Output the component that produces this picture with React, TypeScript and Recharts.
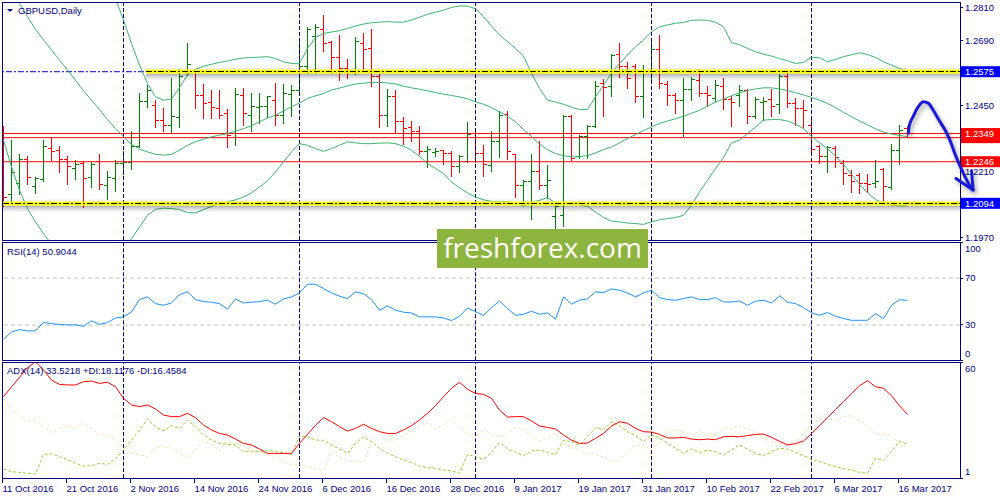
import React from 'react';
import { ComposedChart, Bar, Line, XAxis, YAxis, ReferenceLine } from 'recharts';

const FONT = "'Liberation Sans', Arial, sans-serif";
const NAVY = '#000080';

// ---------- categories / tick labels ----------
const dateLabels = ['11 Oct 2016', '21 Oct 2016', '2 Nov 2016', '14 Nov 2016', '24 Nov 2016', '6 Dec 2016', '16 Dec 2016', '28 Dec 2016', '9 Jan 2017', '19 Jan 2017', '31 Jan 2017', '10 Feb 2017', '22 Feb 2017', '6 Mar 2017', '16 Mar 2017'];
const dateTickIdx = [0, 8, 16, 24, 32, 40, 48, 56, 64, 72, 80, 88, 96, 104, 112];
const separatorIdx = [15, 37, 59, 81, 101];

// ---------- GBPUSD daily OHLC ----------
const openP = [1.2355,1.2127,1.2168,1.2254,1.2156,1.2182,1.2294,1.2286,1.2254,1.2221,
1.2239,1.2190,1.2245,1.2160,1.2184,1.2239,1.2242,1.2300,1.2465,1.2452,
1.2398,1.2380,1.2408,1.2573,1.2575,1.2489,1.2461,1.2441,1.2422,1.2349,
1.2489,1.2416,1.2444,1.2449,1.2471,1.2416,1.2493,1.2508,1.2593,1.2703,
1.2730,1.2681,1.2627,1.2587,1.2578,1.2678,1.2660,1.2559,1.2416,1.2483,
1.2392,1.2371,1.2355,1.2282,1.2278,1.2286,1.2276,1.2227,1.2245,1.2349,
1.2276,1.2233,1.2319,1.2420,1.2273,1.2160,1.2172,1.2209,1.2160,1.2044,
1.2050,1.2412,1.2264,1.2337,1.2376,1.2532,1.2520,1.2639,1.2595,1.2593,
1.2486,1.2581,1.2656,1.2530,1.2489,1.2471,1.2510,1.2544,1.2495,1.2477,
1.2522,1.2473,1.2489,1.2508,1.2412,1.2461,1.2473,1.2456,1.2559,1.2459,
1.2440,1.2380,1.2300,1.2264,1.2294,1.2239,1.2197,1.2197,1.2166,1.2168,
1.2217,1.2151,1.2288,1.2367];
const highP = [1.2373,1.2325,1.2273,1.2264,1.2190,1.2325,1.2333,1.2300,1.2264,1.2251,
1.2247,1.2242,1.2273,1.2212,1.2251,1.2282,1.2355,1.2495,1.2526,1.2471,
1.2440,1.2550,1.2583,1.2678,1.2581,1.2530,1.2505,1.2508,1.2437,1.2514,
1.2514,1.2495,1.2495,1.2486,1.2532,1.2530,1.2526,1.2697,1.2737,1.2746,
1.2780,1.2685,1.2709,1.2620,1.2700,1.2715,1.2730,1.2566,1.2510,1.2505,
1.2408,1.2392,1.2376,1.2300,1.2294,1.2288,1.2282,1.2270,1.2388,1.2351,
1.2306,1.2355,1.2428,1.2428,1.2273,1.2178,1.2273,1.2319,1.2233,1.2090,
1.2416,1.2416,1.2343,1.2380,1.2541,1.2547,1.2639,1.2678,1.2608,1.2603,
1.2599,1.2681,1.2709,1.2538,1.2495,1.2550,1.2554,1.2583,1.2522,1.2542,
1.2550,1.2483,1.2526,1.2510,1.2481,1.2481,1.2510,1.2563,1.2569,1.2477,
1.2471,1.2408,1.2306,1.2303,1.2303,1.2251,1.2215,1.2203,1.2200,1.2251,
1.2221,1.2310,1.2380,1.2376];
const lowP = [1.2087,1.2099,1.2129,1.2166,1.2132,1.2178,1.2254,1.2209,1.2168,1.2184,
1.2081,1.2154,1.2148,1.2111,1.2139,1.2203,1.2221,1.2300,1.2447,1.2376,
1.2359,1.2351,1.2376,1.2566,1.2444,1.2408,1.2408,1.2408,1.2300,1.2310,
1.2383,1.2359,1.2388,1.2412,1.2383,1.2388,1.2416,1.2508,1.2571,1.2571,
1.2654,1.2571,1.2548,1.2554,1.2569,1.2587,1.2526,1.2373,1.2380,1.2355,
1.2312,1.2325,1.2276,1.2227,1.2270,1.2239,1.2197,1.2209,1.2245,1.2245,
1.2197,1.2215,1.2266,1.2257,1.2120,1.2105,1.2038,1.2148,1.2117,1.1998,
1.2014,1.2254,1.2261,1.2261,1.2376,1.2416,1.2489,1.2559,1.2517,1.2465,
1.2410,1.2538,1.2517,1.2456,1.2425,1.2343,1.2473,1.2489,1.2453,1.2471,
1.2440,1.2380,1.2453,1.2388,1.2408,1.2400,1.2416,1.2425,1.2449,1.2383,
1.2373,1.2276,1.2242,1.2212,1.2227,1.2168,1.2136,1.2132,1.2136,1.2156,
1.2105,1.2148,1.2239,1.2339];
const closeP = [1.2117,1.2206,1.2254,1.2188,1.2184,1.2300,1.2282,1.2254,1.2227,1.2237,
1.2184,1.2237,1.2164,1.2188,1.2239,1.2242,1.2300,1.2465,1.2508,1.2398,
1.2380,1.2410,1.2556,1.2603,1.2489,1.2459,1.2444,1.2416,1.2343,1.2492,
1.2422,1.2447,1.2449,1.2483,1.2416,1.2495,1.2508,1.2593,1.2730,1.2737,
1.2678,1.2627,1.2587,1.2578,1.2685,1.2656,1.2559,1.2416,1.2483,1.2392,
1.2367,1.2355,1.2282,1.2290,1.2282,1.2276,1.2227,1.2264,1.2346,1.2276,
1.2237,1.2319,1.2414,1.2282,1.2160,1.2172,1.2209,1.2160,1.2178,1.2081,
1.2412,1.2258,1.2339,1.2376,1.2522,1.2517,1.2636,1.2595,1.2550,1.2486,
1.2578,1.2656,1.2532,1.2489,1.2471,1.2510,1.2547,1.2495,1.2489,1.2526,
1.2473,1.2461,1.2508,1.2410,1.2473,1.2465,1.2449,1.2556,1.2459,1.2440,
1.2434,1.2290,1.2264,1.2298,1.2261,1.2203,1.2172,1.2166,1.2164,1.2172,
1.2154,1.2288,1.2361,1.2349];

// ---------- Bollinger bands ----------
const bbUpper = [null,null,null,null,null,null,null,null,null,null,
1.3160,1.3090,1.3010,1.2930,1.2843,1.2764,1.2678,1.2599,1.2532,1.2483,
1.2471,1.2475,1.2517,1.2563,1.2584,1.2595,1.2602,1.2609,1.2614,1.2621,
1.2625,1.2627,1.2628,1.2630,1.2623,1.2611,1.2605,1.2604,1.2660,1.2700,
1.2715,1.2720,1.2725,1.2733,1.2742,1.2749,1.2754,1.2756,1.2758,1.2756,
1.2756,1.2764,1.2774,1.2785,1.2792,1.2800,1.2810,1.2815,1.2815,1.2805,
1.2776,1.2742,1.2709,1.2685,1.2660,1.2632,1.2569,1.2514,1.2471,1.2464,
1.2456,1.2445,1.2437,1.2437,1.2483,1.2526,1.2569,1.2605,1.2636,1.2666,
1.2691,1.2721,1.2739,1.2746,1.2752,1.2755,1.2763,1.2764,1.2763,1.2756,
1.2739,1.2681,1.2674,1.2660,1.2648,1.2639,1.2632,1.2623,1.2615,1.2605,
1.2609,1.2628,1.2626,1.2611,1.2620,1.2630,1.2637,1.2644,1.2638,1.2627,
1.2611,1.2599,1.2587,1.2578];
const bbMiddle = [1.2898,1.2861,1.2824,1.2776,1.2730,1.2691,1.2654,1.2617,1.2581,1.2544,
1.2505,1.2471,1.2437,1.2400,1.2367,1.2337,1.2310,1.2292,1.2282,1.2273,
1.2270,1.2273,1.2288,1.2306,1.2319,1.2328,1.2337,1.2343,1.2349,1.2358,
1.2367,1.2377,1.2392,1.2406,1.2416,1.2432,1.2447,1.2461,1.2477,1.2487,
1.2495,1.2508,1.2515,1.2523,1.2530,1.2533,1.2536,1.2536,1.2534,1.2530,
1.2522,1.2516,1.2511,1.2505,1.2499,1.2493,1.2488,1.2483,1.2476,1.2465,
1.2456,1.2444,1.2428,1.2412,1.2392,1.2364,1.2339,1.2310,1.2290,1.2276,
1.2268,1.2264,1.2264,1.2268,1.2278,1.2290,1.2300,1.2315,1.2331,1.2345,
1.2360,1.2373,1.2386,1.2395,1.2403,1.2412,1.2423,1.2434,1.2449,1.2464,
1.2475,1.2487,1.2498,1.2506,1.2512,1.2516,1.2516,1.2512,1.2506,1.2498,
1.2490,1.2481,1.2471,1.2459,1.2444,1.2426,1.2410,1.2395,1.2381,1.2366,
1.2354,1.2347,1.2342,1.2338];
const bbLower = [1.2325,1.2227,1.2142,1.2074,1.2026,1.1983,1.1946,1.1910,1.1873,1.1849,
1.1837,1.1831,1.1837,1.1851,1.1889,1.1927,1.1965,1.2007,1.2050,1.2072,
1.2076,1.2075,1.2071,1.2060,1.2059,1.2071,1.2083,1.2093,1.2099,1.2107,
1.2117,1.2132,1.2154,1.2176,1.2209,1.2245,1.2282,1.2312,1.2306,1.2294,
1.2284,1.2294,1.2306,1.2319,1.2315,1.2312,1.2312,1.2314,1.2315,1.2312,
1.2303,1.2288,1.2266,1.2239,1.2221,1.2203,1.2172,1.2151,1.2132,1.2117,
1.2107,1.2101,1.2099,1.2099,1.2095,1.2084,1.2095,1.2105,1.2115,1.2095,
1.2090,1.2090,1.2089,1.2083,1.2062,1.2042,1.2029,1.2026,1.2022,1.2020,
1.2017,1.2026,1.2034,1.2038,1.2042,1.2050,1.2087,1.2136,1.2178,1.2221,
1.2261,1.2315,1.2325,1.2349,1.2373,1.2398,1.2400,1.2400,1.2395,1.2383,
1.2367,1.2339,1.2315,1.2294,1.2266,1.2237,1.2200,1.2164,1.2132,1.2108,
1.2093,1.2087,1.2085,1.2085];

// ---------- RSI(14) ----------
const rsi14 = [17.9,24.1,26.1,25.0,25.0,32.3,31.2,30.4,30.1,30.1,
28.9,33.5,30.6,32.1,36.0,36.9,41.1,51.6,53.9,48.2,
46.8,48.8,55.9,58.2,51.6,49.9,49.4,48.2,43.4,52.2,
48.8,49.4,49.9,51.1,47.7,52.2,53.9,57.3,64.7,64.7,
61.0,57.3,54.5,52.5,58.2,56.7,51.6,42.6,46.2,42.6,
40.9,40.3,36.9,36.9,36.9,36.0,33.8,37.4,44.5,41.4,
38.0,44.8,50.5,44.0,38.3,39.1,41.7,39.1,40.3,34.9,
53.9,47.7,51.1,52.2,58.2,57.6,60.7,59.6,57.3,53.9,
57.3,59.6,53.3,51.6,51.1,52.5,53.9,51.6,51.6,53.3,
49.6,49.6,50.5,46.8,50.2,51.1,48.8,54.8,49.4,48.2,
44.8,40.3,38.3,40.6,37.4,35.5,34.0,34.0,34.0,39.7,
35.5,46.8,51.6,50.9];

// ---------- ADX(14), +DI, -DI ----------
const adx14 = [42.6,47.6,52.5,57.5,60.5,56.3,51.1,48.9,48.6,48.6,
50.3,50.6,49.4,50.0,47.7,41.8,38.4,37.5,38.4,36.3,
33.2,32.4,32.4,34.1,31.9,28.1,25.6,23.8,23.0,20.9,
18.7,17.9,15.8,13.6,13.6,13.6,13.6,18.7,23.3,28.0,
32.0,29.8,27.3,25.0,26.4,28.5,26.4,24.7,23.8,23.8,
25.6,27.8,30.7,34.1,38.0,42.6,46.9,50.0,46.4,44.3,
43.8,41.8,35.8,32.2,32.4,32.4,30.2,27.6,26.9,26.1,
23.0,20.4,18.7,18.9,21.3,23.8,27.6,29.8,29.0,26.4,
24.7,24.5,23.3,21.5,21.5,21.8,20.9,20.6,20.9,20.6,
22.1,22.3,22.1,22.7,23.3,23.5,21.8,19.8,17.9,18.6,
19.9,23.7,27.8,31.9,36.0,40.1,44.1,48.2,50.8,47.7,
46.9,43.1,38.0,33.5];
const plusDI = [5.6,4.2,3.9,3.4,3.0,13.1,13.4,11.9,10.4,8.5,
7.1,7.3,8.5,8.0,10.7,15.3,20.4,25.6,31.2,27.3,
25.0,27.8,26.4,30.7,27.3,23.0,20.4,18.7,18.2,17.9,
14.5,14.5,14.5,15.3,14.5,14.1,12.8,22.5,22.1,20.4,
20.3,17.9,15.8,13.6,18.7,22.1,19.6,16.2,13.6,11.9,
10.2,9.0,7.1,6.3,5.9,5.1,4.6,3.4,13.1,11.9,
10.5,14.1,19.2,15.8,14.1,12.4,14.8,15.3,14.1,12.8,
20.4,19.6,17.9,22.1,26.8,25.6,29.8,27.8,24.7,22.7,
19.6,23.3,21.3,18.9,16.2,13.6,15.8,14.1,15.2,14.5,
12.8,15.3,17.9,15.8,13.6,12.4,14.5,16.2,15.8,14.1,
12.4,10.7,9.4,8.0,6.8,5.9,5.1,3.9,3.4,11.1,
10.0,14.5,19.9,18.1];
const minusDI = [41.8,36.3,32.4,29.8,30.7,27.3,24.4,26.4,27.8,26.4,
29.0,26.1,23.3,23.0,20.4,16.2,13.6,12.8,11.9,16.5,
17.5,16.2,13.6,11.4,15.3,19.9,18.2,15.0,19.9,18.7,
17.0,15.3,14.5,12.8,11.9,9.4,7.6,8.0,6.8,5.9,
5.1,14.5,11.4,9.7,9.7,9.0,19.2,23.0,20.4,20.4,
23.0,25.6,27.8,29.5,26.1,28.1,31.5,27.3,23.8,21.3,
26.4,23.0,22.1,23.8,26.8,26.1,22.7,19.9,21.6,23.8,
19.2,16.5,15.3,13.6,12.8,11.9,9.7,9.4,14.5,17.9,
17.5,15.3,19.9,25.4,25.7,24.4,23.0,25.0,22.1,23.0,
26.8,26.1,27.8,26.1,24.2,21.3,19.6,18.7,17.5,19.2,
23.7,28.5,30.7,31.5,30.5,32.4,32.9,30.5,27.8,23.8,
23.3,23.0,18.7,16.5];

// ---------- levels / axis ticks ----------
const resistanceLevel = 1.2575;
const supportLevel = 1.2094;
const resistanceBandStart = 17.8;
const redLevels = [1.2349, 1.2334, 1.2246];
const priceAxisTicks = [1.281, 1.269, 1.245, 1.221, 1.197];
const priceMarkerValues = [1.2575, 1.2094, 1.2246, 1.2334, 1.2349];
const priceMarkerColors = ['#0000ff', '#0000ff', '#ff0000', '#ff0000', '#ff0000'];
const hiddenMarkerValues = [1.2334]; // label box almost fully covered by the 1.2349 box
const rsiAxisTicks = [100, 70, 30, 0];
const rsiLevels = [70, 30];
const adxAxisTicks = [60, 1];

// hand-drawn forecast arrow (bar index, price)
const arrowIdx = [113.1, 113.2, 113.7, 114.35, 114.97, 115.6, 116.2, 117.06, 117.7, 118.3, 118.9, 119.6, 120.4, 121.0, 121.2];
const arrowPrice = [1.2350, 1.2374, 1.2411, 1.2447, 1.2465, 1.2460, 1.2435, 1.2392, 1.2362, 1.2325, 1.2277, 1.2228, 1.2179, 1.2149, 1.2143];
const arrowHeadIdx = [119.06, 121.2, 121.0];
const arrowHeadPrice = [1.2185, 1.2143, 1.2213];

// ---------- scales setup ----------
const X_DOMAIN: [number, number] = [-0.0625, 119.5625];
const OVERLAY_X_DOMAIN: [number, number] = [-0.4375, 124.5625];
const PRICE_DOMAIN: [number, number] = [1.19599, 1.28261];

const priceRows = openP.map((o, i) => ({ i, o, h: highP[i], l: lowP[i], c: closeP[i], bu: bbUpper[i], bm: bbMiddle[i], bl: bbLower[i] }));
const rsiRows = rsi14.map((v, i) => ({ i, rsi: v }));
const adxRows = adx14.map((v, i) => ({ i, adx: v, pdi: plusDI[i], mdi: minusDI[i] }));
const arrowRows = arrowIdx.map((x, k) => ({ x, p: arrowPrice[k] }));
const arrowHeadRows = arrowHeadIdx.map((x, k) => ({ x, p: arrowHeadPrice[k] }));

const snap = (v: number) => Math.round(v - 0.5) + 0.5;

const OhlcShape = (props: any) => {
  const { x, y, width, height, payload } = props;
  if (x == null || y == null || !payload) return null;
  const top = Math.min(y, y + height);
  const bot = Math.max(y, y + height);
  const cx = snap(x + width / 2);
  const { o, h, l, c } = payload;
  const span = h - l;
  const py = (v: number) => (span > 0 ? top + ((h - v) / span) * (bot - top) : top);
  const color = c > o ? '#008000' : '#ff0000';
  const yo = snap(py(o));
  const yc = snap(py(c));
  return (
    <g>
      <line x1={cx} x2={cx} y1={Math.floor(top)} y2={Math.ceil(bot) + 1} stroke={color} strokeWidth={1} />
      <line x1={cx - 3.5} x2={cx - 0.5} y1={yo} y2={yo} stroke={color} strokeWidth={1} />
      <line x1={cx + 0.5} x2={cx + 3.5} y1={yc} y2={yc} stroke={color} strokeWidth={1} />
    </g>
  );
};

const YellowBand = (p: any) => {
  const left = Math.min(p.x1, p.x2);
  const right = Math.max(p.x1, p.x2);
  const yy = snap(p.y1);
  const w = right - left;
  return (
    <g clipPath={p.clipPath}>
      <rect x={left} y={yy - 4} width={w} height={2} fill="#000" opacity={0.06} />
      <rect x={left} y={yy + 2} width={w} height={2} fill="#000" opacity={0.28} />
      <rect x={left} y={yy + 4} width={w} height={2} fill="#000" opacity={0.16} />
      <rect x={left} y={yy + 6} width={w} height={2} fill="#000" opacity={0.07} />
      <rect x={left} y={yy - 2} width={w} height={4} fill="#ffff00" />
      <line x1={left} x2={right} y1={yy} y2={yy} stroke="#000000" strokeWidth={1} strokeDasharray="6 2 2 2" />
    </g>
  );
};

const PriceTick = (p: any) => {
  const { x, y, payload } = p;
  const v = payload.value as number;
  const k = priceMarkerValues.indexOf(v);
  if (k >= 0) {
    const hidden = hiddenMarkerValues.indexOf(v) >= 0;
    return (
      <g>
        <rect x={x + 1} y={y - 5.5} width={40} height={11} fill={priceMarkerColors[k]} />
        {hidden ? null : (
          <text x={x + 5} y={y} dy="0.35em" fill="#ffffff" fontSize={9.5} fontFamily={FONT}>{v.toFixed(4)}</text>
        )}
      </g>
    );
  }
  return (
    <g>
      <line x1={x} x2={x + 3} y1={snap(y)} y2={snap(y)} stroke={NAVY} />
      <text x={x + 5} y={y} dy="0.35em" fill={NAVY} fontSize={9.5} fontFamily={FONT}>{v.toFixed(4)}</text>
    </g>
  );
};

const makeEdgeTick = (maxV: number, minV: number) => (p: any) => {
  const { x, y, payload } = p;
  const v = payload.value as number;
  const shift = v === maxV ? 6.3 : v === minV ? -6.8 : 0;
  return (
    <g>
      <line x1={x} x2={x + 3} y1={snap(y)} y2={snap(y)} stroke={NAVY} />
      <text x={x + 5} y={y + shift} dy="0.35em" fill={NAVY} fontSize={9.5} fontFamily={FONT}>{String(v)}</text>
    </g>
  );
};
const RsiTick = makeEdgeTick(100, 0);
const AdxTick = makeEdgeTick(60, 1);

const DateTick = (p: any) => {
  const { x, y, payload } = p;
  const k = dateTickIdx.indexOf(payload.value);
  return (
    <g>
      <line x1={snap(x - 1)} x2={snap(x - 1)} y1={y + 1} y2={y + 5} stroke={NAVY} />
      <text x={x - 1} y={y + 14} fill={NAVY} fontSize={9.5} fontFamily={FONT}>{k >= 0 ? dateLabels[k] : ''}</text>
    </g>
  );
};

const separators = (prefix: string) =>
  separatorIdx.map((s) => <ReferenceLine key={prefix + s} x={s} stroke={NAVY} strokeDasharray="4 2" ifOverflow="hidden" />);

const abs = (left: number, top: number): React.CSSProperties => ({ position: 'absolute', left, top });

export default function App() {
  return (
    <div style={{ position: 'absolute', left: 0, top: 0, width: 1000, height: 500, background: '#ffffff', overflow: 'hidden', fontFamily: FONT }}>
      {/* panel frames */}
      <div style={{ ...abs(2, 2), width: 959, height: 239, border: `1px solid ${NAVY}`, boxSizing: 'border-box' }} />
      <div style={{ ...abs(2, 242), width: 959, height: 119, border: `1px solid ${NAVY}`, boxSizing: 'border-box' }} />
      <div style={{ ...abs(2, 362), width: 959, height: 117, border: `1px solid ${NAVY}`, boxSizing: 'border-box' }} />

      {/* price panel */}
      <div style={abs(0, 0)}>
        <ComposedChart width={1000} height={242} data={priceRows} margin={{ top: 3, right: 0, bottom: 2, left: 3 }}>
          <XAxis dataKey="i" type="number" domain={X_DOMAIN} allowDataOverflow hide />
          <YAxis orientation="right" width={40} type="number" domain={PRICE_DOMAIN} allowDataOverflow
            ticks={[...priceAxisTicks, ...priceMarkerValues]} interval={0} tick={(p: any) => <PriceTick {...p} />}
            tickLine={false} axisLine={false} tickSize={0} tickMargin={0} />
          {separators('p')}
          <ReferenceLine y={resistanceLevel} stroke="#0000cd" strokeDasharray="6 2 2 2" ifOverflow="hidden" />
          {redLevels.map((v) => <ReferenceLine key={'r' + v} y={v} stroke="#ff0000" ifOverflow="hidden" />)}
          <Line dataKey="bu" stroke="#3cb371" strokeWidth={1} dot={false} activeDot={false} isAnimationActive={false} />
          <Line dataKey="bm" stroke="#3cb371" strokeWidth={1} dot={false} activeDot={false} isAnimationActive={false} />
          <Line dataKey="bl" stroke="#3cb371" strokeWidth={1} dot={false} activeDot={false} isAnimationActive={false} />
          <Bar dataKey={(d: any) => [d.l, d.h]} barSize={6} shape={OhlcShape} isAnimationActive={false} />
          <ReferenceLine segment={[{ x: resistanceBandStart, y: resistanceLevel }, { x: X_DOMAIN[1], y: resistanceLevel }]} shape={YellowBand} ifOverflow="hidden" />
          <ReferenceLine segment={[{ x: X_DOMAIN[0], y: supportLevel }, { x: X_DOMAIN[1], y: supportLevel }]} shape={YellowBand} ifOverflow="hidden" />
        </ComposedChart>
      </div>

      {/* RSI panel */}
      <div style={abs(0, 242)}>
        <ComposedChart width={1000} height={120} data={rsiRows} margin={{ top: 0.75, right: 0, bottom: 1.75, left: 3 }}>
          <XAxis dataKey="i" type="number" domain={X_DOMAIN} allowDataOverflow hide />
          <YAxis orientation="right" width={40} type="number" domain={[0, 100]} allowDataOverflow
            ticks={rsiAxisTicks} interval={0} tick={(p: any) => <RsiTick {...p} />}
            tickLine={false} axisLine={false} tickSize={0} tickMargin={0} />
          {rsiLevels.map((v) => <ReferenceLine key={'l' + v} y={v} stroke="#c0c0c0" strokeDasharray="4 3" />)}
          {separators('r')}
          <Line dataKey="rsi" stroke="#1e90ff" strokeWidth={1} dot={false} activeDot={false} isAnimationActive={false} />
        </ComposedChart>
      </div>

      {/* ADX panel */}
      <div style={abs(0, 362)}>
        <ComposedChart width={1000} height={138} data={adxRows} margin={{ top: 0.7, right: 0, bottom: 0, left: 3 }}>
          <XAxis dataKey="i" type="number" domain={X_DOMAIN} allowDataOverflow height={22}
            ticks={dateTickIdx} interval={0} tick={(p: any) => <DateTick {...p} />}
            tickLine={false} axisLine={false} tickSize={0} tickMargin={0} />
          <YAxis orientation="right" width={40} type="number" domain={[1, 60]} allowDataOverflow
            ticks={adxAxisTicks} interval={0} tick={(p: any) => <AdxTick {...p} />}
            tickLine={false} axisLine={false} tickSize={0} tickMargin={0} />
          {separators('a')}
          <Line dataKey="mdi" stroke="#f5deb3" strokeWidth={1} strokeDasharray="3 2" dot={false} activeDot={false} isAnimationActive={false} />
          <Line dataKey="pdi" stroke="#9acd32" strokeWidth={1} strokeDasharray="3 2" dot={false} activeDot={false} isAnimationActive={false} />
          <Line dataKey="adx" stroke="#ff0000" strokeWidth={1} dot={false} activeDot={false} isAnimationActive={false} />
        </ComposedChart>
      </div>

      {/* watermark */}
      <div style={{ ...abs(437, 229), width: 211, height: 39, background: '#8cb43e', color: '#ffffff', fontFamily: "'Open Sans', 'Noto Sans', sans-serif", fontSize: 28, lineHeight: '37px', textAlign: 'center' }}>
        freshforex.com
      </div>

      {/* forecast arrow */}
      <div style={{ ...abs(0, 0), filter: 'drop-shadow(2px 3px 2px rgba(0,0,0,0.35))' }}>
        <ComposedChart width={1000} height={242} margin={{ top: 3, right: 0, bottom: 2, left: 0 }}>
          <XAxis dataKey="x" type="number" domain={OVERLAY_X_DOMAIN} hide />
          <YAxis type="number" domain={PRICE_DOMAIN} hide />
          <Line data={arrowRows} dataKey="p" type="monotone" stroke="#1818d8" strokeWidth={3} strokeLinecap="round" strokeLinejoin="round" dot={false} activeDot={false} isAnimationActive={false} />
          <Line data={arrowHeadRows} dataKey="p" type="linear" stroke="#1818d8" strokeWidth={3} strokeLinecap="round" strokeLinejoin="round" dot={false} activeDot={false} isAnimationActive={false} />
        </ComposedChart>
      </div>

      {/* panel captions */}
      <svg width={1000} height={500} style={{ ...abs(0, 0), pointerEvents: 'none' }}>
        <polygon points="7,9 13,9 10,12" fill={NAVY} />
        <text x={18} y={14} fill={NAVY} fontSize={9.5} fontFamily={FONT}>GBPUSD,Daily</text>
        <text x={7} y={255} fill={NAVY} fontSize={9.5} fontFamily={FONT}>RSI(14) 50.9044</text>
        <text x={7} y={374} fill={NAVY} fontSize={9.5} fontFamily={FONT}>ADX(14) 33.5218 +DI:18.1176 -DI:16.4584</text>
      </svg>
    </div>
  );
}
